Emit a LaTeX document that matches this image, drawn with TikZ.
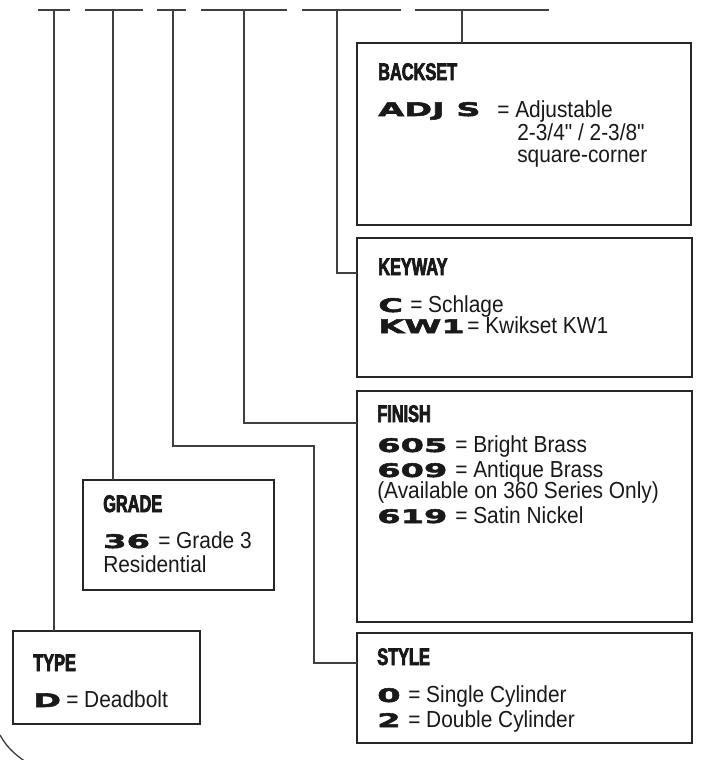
\documentclass[tikz,border=0pt]{standalone}
\usepackage{fontspec}
\setmainfont{Liberation Sans}
\newfontfamily\headfont{Liberation Sans Bold}[FakeStretch=0.68,FakeBold=3]
\newfontfamily\bodyfont{Liberation Sans}[FakeStretch=0.9]
\newfontfamily\codefont{DejaVu Sans Bold}[FakeStretch=1.8,FakeBold=3]
\begin{document}
\begin{tikzpicture}[x=0.75pt,y=-0.75pt,
  box/.style={draw=black!85,line width=1pt,rectangle,inner sep=0pt,outer sep=0pt,anchor=north west},
  conn/.style={draw=black!75,line width=1pt},
  head/.style={anchor=base west,inner sep=0pt,font=\headfont\fontsize{18}{19}\selectfont,text=black!90},
  txt/.style={anchor=base west,inner sep=0pt,font=\bodyfont\fontsize{17.4}{20}\selectfont,text=black!90},
  code/.style={anchor=base west,inner sep=0pt,font=\codefont\fontsize{14}{15}\selectfont,text=black!90}]
\useasboundingbox (0,0) rectangle (704,760);

% boxes
\node[box,minimum width=250.5pt,minimum height=136.5pt] (backset) at (357,43) {};
\node[box,minimum width=251.25pt,minimum height=104.25pt] (keyway) at (357,238) {};
\node[box,minimum width=251.25pt,minimum height=173.25pt] (finish) at (357,391) {};
\node[box,minimum width=143.25pt,minimum height=82.5pt] (grade) at (83,480) {};
\node[box,minimum width=140.25pt,minimum height=69.75pt] (type) at (13,631) {};
\node[box,minimum width=251.25pt,minimum height=82.5pt] (style) at (357,633) {};

% top bars
\coordinate (b1) at (54,10);
\coordinate (b2) at (113,10);
\coordinate (b3) at (173,10);
\coordinate (b4) at (244,10);
\coordinate (b5) at (337,10);
\coordinate (b6) at (462,10);
\draw[conn] ([xshift=-12pt]b1) -- ([xshift=12pt]b1);
\draw[conn] ([xshift=-21pt]b2) -- ([xshift=22.5pt]b2);
\draw[conn] ([xshift=-12pt]b3) -- ([xshift=9.75pt]b3);
\draw[conn] ([xshift=-32.25pt]b4) -- ([xshift=32.25pt]b4);
\draw[conn] ([xshift=-26.25pt]b5) -- ([xshift=48pt]b5);
\draw[conn] ([xshift=-35.25pt]b6) -- ([xshift=65.25pt]b6);

% connectors
\coordinate (k3) at (314,446);
\draw[conn] (b1) -- (b1 |- type.north);
\draw[conn] (b2) -- (b2 |- grade.north);
\draw[conn] (b3) |- (k3) |- ([yshift=-22.5pt]style.north west);
\draw[conn] (b4) |- ([yshift=-24pt]finish.north west);
\draw[conn] (b5) |- ([yshift=-26.25pt]keyway.north west);
\draw[conn] (b6) -- (b6 |- backset.north);

% arc at bottom left
\draw[conn] (0,735) .. controls (6,746) and (14,754) .. (26,762);

% BACKSET
\node[head] (h1) at (378,80) {BACKSET};
\node[code] (c1) at (378,116) {ADJ S};
\node[txt] (t1) at (497,117) {= Adjustable};
\node[txt] (t1b) at (517,140) {2-3/4" / 2-3/8"};
\node[txt] (t1c) at (517,162) {square-corner};

% KEYWAY
\node[head] (h2) at (378,275) {KEYWAY};
\node[code] (c2a) at (378,312) {C};
\node[txt] (t2a) at (410,312) {= Schlage};
\node[code] (c2b) at (378,333) {KW1};
\node[txt] (t2b) at (467,333) {= Kwikset KW1};

% FINISH
\node[head] (h3) at (377,422) {FINISH};
\node[code] (c3a) at (377,452) {605};
\node[txt] (t3a) at (455,452) {= Bright Brass};
\node[code] (c3b) at (377,477) {609};
\node[txt] (t3b) at (455,477) {= Antique Brass};
\node[txt] (t3c) at (377,498) {(Available on 360 Series Only)};
\node[code] (c3d) at (377,523) {619};
\node[txt] (t3d) at (455,523) {= Satin Nickel};

% GRADE
\node[head] (h4) at (103,512) {GRADE};
\node[code] (c4) at (103,548) {36};
\node[txt] (t4) at (158,548) {= Grade 3};
\node[txt] (t4b) at (103,572) {Residential};

% TYPE
\node[head] (h5) at (33,671) {TYPE};
\node[code] (c5) at (33,707) {D};
\node[txt] (t5) at (66,707) {= Deadbolt};

% STYLE
\node[head] (h6) at (377,665) {STYLE};
\node[code] (c6a) at (377,702) {0};
\node[txt] (t6a) at (408,702) {= Single Cylinder};
\node[code] (c6b) at (377,727) {2};
\node[txt] (t6b) at (408,727) {= Double Cylinder};
\end{tikzpicture}
\end{document}
